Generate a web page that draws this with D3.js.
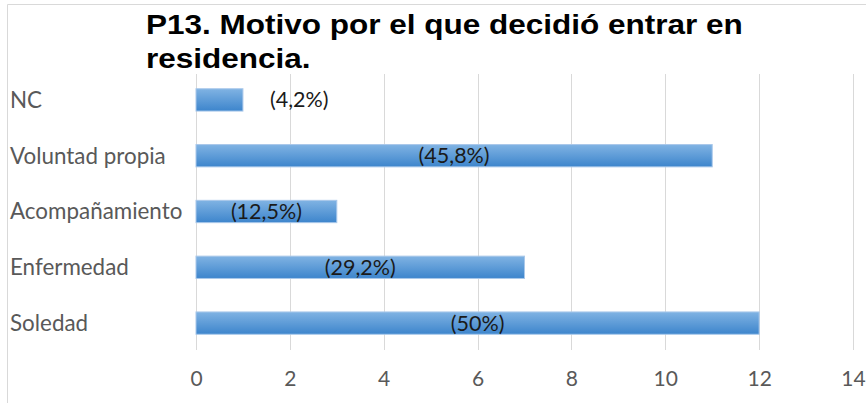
<!DOCTYPE html>
<html>
<head>
<meta charset="utf-8">
<script src="https://cdn.jsdelivr.net/npm/d3@7"></script>
<style>
  body { margin: 0; background: #fff; }
  svg { display: block; }
</style>
</head>
<body>
<svg class="chart"></svg>
<script>
// Chart data.
var categories = ["NC", "Voluntad propia", "Acompañamiento", "Enfermedad", "Soledad"];
var values = [1, 11, 3, 7, 12];
var pctLabels = ["(4,2%)", "(45,8%)", "(12,5%)", "(29,2%)", "(50%)"];
var xTicks = [0, 2, 4, 6, 8, 10, 12, 14];
var titleLines = ["P13. Motivo por el que decidió entrar en", "residencia."];

var width = 866, height = 403;
var svg = d3.select(".chart").attr("width", width).attr("height", height);

// Outer chart frame (only left and top edges show in the crop).
svg.append("path")
    .attr("d", "M7.5," + height + "V4.5H" + width)
    .attr("fill", "none")
    .attr("stroke", "#d9d9d9");

var x = d3.scaleLinear().domain([0, 14]).range([196, 853]);
var y = d3.scaleBand().domain(categories).range([72, 351]).paddingInner(0.6).paddingOuter(0.3);

// Bar gradient, light on top, darker underneath.
var grad = svg.append("defs").append("linearGradient")
    .attr("id", "barGrad").attr("x1", 0).attr("y1", 0).attr("x2", 0).attr("y2", 1);
grad.append("stop").attr("offset", "0%").attr("stop-color", "#80b3e3");
grad.append("stop").attr("offset", "100%").attr("stop-color", "#3d85cc");

// Gridlines.
svg.append("g").selectAll("line")
    .data(xTicks)
    .join("line")
    .attr("x1", function(d) { return Math.round(x(d)) + 0.5; })
    .attr("x2", function(d) { return Math.round(x(d)) + 0.5; })
    .attr("y1", 74)
    .attr("y2", 350)
    .attr("stroke", "#d9d9d9")
    .attr("stroke-width", 1);

// Title (the original is a slightly stretched Arial bold).
svg.append("text")
    .attr("transform", "translate(146,0) scale(1.167,1)")
    .attr("font-family", "Liberation Sans, Arial, sans-serif")
    .attr("font-weight", "bold")
    .attr("font-size", 27)
    .attr("fill", "#000")
    .selectAll("tspan")
    .data(titleLines)
    .join("tspan")
    .attr("x", 0)
    .attr("y", function(d, i) { return 34 + i * 34; })
    .text(function(d) { return d; });

var data = categories.map(function(c, i) {
    return {cat: c, value: values[i], label: pctLabels[i]};
});

// Bars.
svg.append("g").selectAll("rect")
    .data(data)
    .join("rect")
    .attr("x", x(0))
    .attr("y", function(d) { return y(d.cat); })
    .attr("width", function(d) { return x(d.value) - x(0); })
    .attr("height", y.bandwidth())
    .attr("fill", "url(#barGrad)")
    .attr("stroke", "#a9c8ea")
    .attr("stroke-width", 1);

// Category labels.
svg.append("g").selectAll("text")
    .data(data)
    .join("text")
    .attr("x", 10)
    .attr("y", function(d) { return y(d.cat) + y.bandwidth() / 2; })
    .attr("dy", "0.35em")
    .attr("font-family", "Lato, sans-serif")
    .attr("font-size", 22.4)
    .attr("fill", "#595959")
    .text(function(d) { return d.cat; });

// Data labels: centred in the bar, except NC which sits just past its bar.
svg.append("g").selectAll("text")
    .data(data)
    .join("text")
    .attr("x", function(d) {
        return d.value < 2 ? x(2.2) : (x(0) + x(d.value)) / 2;
    })
    .attr("y", function(d) { return y(d.cat) + y.bandwidth() / 2; })
    .attr("dy", "0.35em")
    .attr("text-anchor", "middle")
    .attr("font-family", "Lato, sans-serif")
    .attr("font-size", 21.5)
    .attr("fill", "#1a1a1a")
    .text(function(d) { return d.label; });

// X axis tick labels.
var xAxis = svg.append("g")
    .attr("transform", "translate(0,379)")
    .call(d3.axisBottom(x).tickValues(xTicks).tickSize(0).tickPadding(0));
xAxis.select(".domain").remove();
xAxis.selectAll("text")
    .attr("font-family", "Lato, sans-serif")
    .attr("font-size", 21)
    .attr("fill", "#595959")
    .attr("dy", "0.35em");
</script>
</body>
</html>
